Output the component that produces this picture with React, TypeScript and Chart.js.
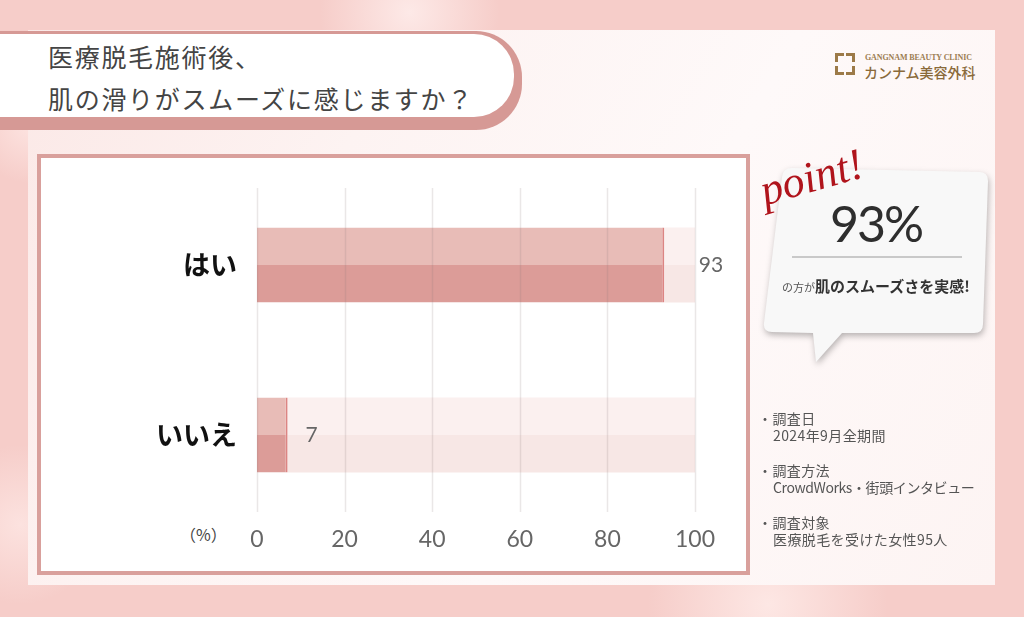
import React, { useEffect, useRef } from 'react';
import { Chart, registerables } from 'chart.js';

Chart.register(...registerables);

const categories = ['はい', 'いいえ'];
const values = [93, 7];
const scaleMax = 100;
const xTickValues = [0, 20, 40, 60, 80, 100];
const unitLabel = '（%）';
const titleLines = ['医療脱毛施術後、', '肌の滑りがスムーズに感じますか？'];
const pointValue = '93%';
const pointCaptionSmall = 'の方が';
const pointCaptionBold = '肌のスムーズさを実感!';
const noteHeads = ['調査日', '調査方法', '調査対象'];
const noteBodies = ['2024年9月全期間', 'CrowdWorks・街頭インタビュー', '医療脱毛を受けた女性95人'];

const JP = "'Noto Sans CJK JP', 'Noto Sans', sans-serif";

const gridPlugin = {
  id: 'customGrid',
  afterDatasetsDraw(chart: any) {
    const { ctx, chartArea, scales } = chart;
    const x = scales.x;
    ctx.save();
    ctx.strokeStyle = 'rgba(140,120,120,0.18)';
    ctx.lineWidth = 1.5;
    xTickValues.forEach((t) => {
      const px = Math.round(x.getPixelForValue(t)) + 0.5;
      ctx.beginPath();
      ctx.moveTo(px, chartArea.top + 8);
      ctx.lineTo(px, chartArea.bottom - 8);
      ctx.stroke();
    });
    ctx.restore();
  },
};

const valueLabelPlugin = {
  id: 'valueLabels',
  afterDatasetsDraw(chart: any) {
    const { ctx, scales } = chart;
    const x = scales.x;
    const y = scales.y;
    ctx.save();
    ctx.font = '400 21px Lato, sans-serif';
    ctx.fillStyle = '#666';
    ctx.textBaseline = 'middle';
    ctx.textAlign = 'center';
    values.forEach((v, i) => {
      const end = x.getPixelForValue(v);
      const trackEnd = x.getPixelForValue(scaleMax);
      let px = end + 24;
      if (px > trackEnd - 12) px = trackEnd + 16;
      ctx.fillText(String(v), px, y.getPixelForValue(i));
    });
    ctx.restore();
  },
};

function BarChart() {
  const ref = useRef<HTMLCanvasElement | null>(null);
  useEffect(() => {
    if (!ref.current) return;
    const remainder = values.map((v) => scaleMax - v);
    const edge = { top: 0, left: 0, bottom: 0, right: 2 };
    const chart = new Chart(ref.current, {
      type: 'bar',
      data: {
        labels: categories,
        datasets: [
          { label: 'top', data: values, stack: 'a', backgroundColor: '#e8bcb7', borderColor: 'rgba(208,92,90,0.75)', borderWidth: edge, borderSkipped: false },
          { label: 'bottom', data: values, stack: 'b', backgroundColor: '#dc9c98', borderColor: 'rgba(208,92,90,0.75)', borderWidth: edge, borderSkipped: false },
          { label: 'trackTop', data: remainder, stack: 'a', backgroundColor: '#fbf0ef', borderWidth: 0 },
          { label: 'trackBottom', data: remainder, stack: 'b', backgroundColor: '#f7e7e5', borderWidth: 0 },
        ],
      },
      options: {
        indexAxis: 'y',
        responsive: false,
        animation: false,
        devicePixelRatio: 1,
        datasets: { bar: { categoryPercentage: 75 / 170, barPercentage: 1 } },
        layout: { padding: { top: 180, right: 329, bottom: 0, left: 0 } },
        plugins: { legend: { display: false }, tooltip: { enabled: false } },
        scales: {
          x: {
            type: 'linear',
            min: 0,
            max: scaleMax,
            stacked: true,
            grid: { display: false, drawTicks: false },
            border: { display: false },
            afterFit: (s: any) => { s.height = 97; },
            afterBuildTicks: (s: any) => { s.ticks = xTickValues.map((v) => ({ value: v })); },
            ticks: { color: '#666', font: { family: 'Lato, sans-serif', size: 23, weight: '400' }, padding: 6 },
          },
          y: {
            type: 'category',
            stacked: true,
            grid: { display: false, drawTicks: false },
            border: { display: false },
            afterFit: (s: any) => { s.width = 257; },
            ticks: { color: '#111', font: { family: JP, size: 27, weight: '700' }, padding: 20 },
          },
        },
      },
      plugins: [gridPlugin, valueLabelPlugin],
    } as any);
    return () => chart.destroy();
  }, []);
  return <canvas ref={ref} width={1024} height={617} style={{ position: 'absolute', left: 0, top: 0, width: 1024, height: 617 }} />;
}

export default function App() {
  return (
    <div style={{ position: 'absolute', left: 0, top: 0, width: 1024, height: 617, overflow: 'hidden', fontFamily: JP,
      background: 'radial-gradient(circle at 3% 20%, #fde4e1 0, rgba(253,228,225,0) 60px), radial-gradient(circle at 40% 2%, #fde9e7 0, rgba(253,233,231,0) 90px), radial-gradient(circle at 75% 98%, #fde7e4 0, rgba(253,231,228,0) 120px), radial-gradient(circle at 2% 85%, #fce2df 0, rgba(252,226,223,0) 80px), #f6cdc9' }}>
      {/* main panel */}
      <div style={{ position: 'absolute', left: 28, top: 30, width: 967, height: 555,
        background: 'linear-gradient(120deg, #fbe8e6 0%, #fdf3f2 30%, #fef9f9 60%, #fdf4f3 100%)' }} />
      {/* title */}
      <div style={{ position: 'absolute', left: -10, top: 31, width: 532, height: 99, background: '#d69995', borderRadius: '0 46px 46px 0' }} />
      <div style={{ position: 'absolute', left: -10, top: 34, width: 524, height: 83, background: '#ffffff', borderRadius: '0 40px 40px 0' }} />
      <div style={{ position: 'absolute', left: 48, top: 35, color: '#444', fontSize: 25, letterSpacing: 1.7, whiteSpace: 'nowrap' }}>
        {titleLines.map((t, i) => (<div key={i} style={{ height: 42, lineHeight: '42px' }}>{t}</div>))}
      </div>
      {/* logo */}
      <div style={{ position: 'absolute', left: 835, top: 53, width: 20, height: 22 }}>
        <div style={{ position: 'absolute', left: 0, top: 0, width: 6, height: 6, borderLeft: '3px solid #9c7a48', borderTop: '3px solid #9c7a48' }} />
        <div style={{ position: 'absolute', right: 0, top: 0, width: 6, height: 6, borderRight: '3px solid #9c7a48', borderTop: '3px solid #9c7a48' }} />
        <div style={{ position: 'absolute', left: 0, bottom: 0, width: 6, height: 6, borderLeft: '3px solid #9c7a48', borderBottom: '3px solid #9c7a48' }} />
        <div style={{ position: 'absolute', right: 0, bottom: 0, width: 6, height: 6, borderRight: '3px solid #9c7a48', borderBottom: '3px solid #9c7a48' }} />
      </div>
      <div style={{ position: 'absolute', left: 865, top: 53, fontFamily: "'Liberation Serif', serif", fontWeight: 700, fontSize: 8, color: '#9c7d52', whiteSpace: 'nowrap', letterSpacing: -0.1 }}>GANGNAM BEAUTY CLINIC</div>
      <div style={{ position: 'absolute', left: 864, top: 62, fontSize: 14, fontWeight: 500, color: '#8a6a3a', whiteSpace: 'nowrap', lineHeight: '20px' }}>カンナム美容外科</div>
      {/* chart frame */}
      <div style={{ position: 'absolute', left: 37, top: 154, width: 705, height: 413, border: '4px solid #d9a09c', background: '#ffffff' }} />
      <div style={{ position: 'absolute', left: 180, top: 522, fontSize: 16, color: '#444', whiteSpace: 'nowrap', lineHeight: '24px' }}>{unitLabel}</div>
      <BarChart />
      {/* point bubble */}
      <svg width={1024} height={617} style={{ position: 'absolute', left: 0, top: 0, filter: 'drop-shadow(1px 3px 3px rgba(0,0,0,0.28))' }}>
        <path d="M 792,168 L 979,172 Q 988,172 988,181 L 983,324 Q 983,333 974,333 L 842,333 L 816,362 L 813,333 L 772,332 Q 763,332 764,323 L 782,177 Q 783,168 792,168 Z" fill="#f8f8f8" />
        <line x1={792} y1={257} x2={962} y2={257} stroke="#9a9a9a" strokeWidth={1} />
      </svg>
      <div style={{ position: 'absolute', left: 768, top: 166, transform: 'rotate(-16deg)', transformOrigin: 'left bottom', fontFamily: "'Liberation Serif', serif", fontStyle: 'italic', fontSize: 44, color: '#b0141c', whiteSpace: 'nowrap', lineHeight: '50px' }}>point!</div>
      <div style={{ position: 'absolute', left: 776, top: 193, width: 200, textAlign: 'center', fontFamily: "Lato, 'Noto Sans', sans-serif", fontSize: 50, fontWeight: 400, color: '#2e2e2e', letterSpacing: -2, lineHeight: '60px' }}>{pointValue}</div>
      <div style={{ position: 'absolute', left: 776, top: 274, width: 200, textAlign: 'center', whiteSpace: 'nowrap', color: '#333', lineHeight: '22px' }}>
        <span style={{ fontSize: 11, color: '#555' }}>{pointCaptionSmall}</span>
        <span style={{ fontSize: 15, fontWeight: 700 }}>{pointCaptionBold}</span>
      </div>
      {/* notes */}
      <div style={{ position: 'absolute', left: 758, top: 410, color: '#555', fontSize: 14, letterSpacing: 0.4, lineHeight: '17px', whiteSpace: 'nowrap' }}>
        {noteHeads.map((h, i) => (
          <div key={i} style={{ marginBottom: 18 }}>
            <div>・{h}</div>
            <div style={{ paddingLeft: 15, letterSpacing: i === 1 ? -0.4 : 0.4 }}>{noteBodies[i]}</div>
          </div>
        ))}
      </div>
    </div>
  );
}
